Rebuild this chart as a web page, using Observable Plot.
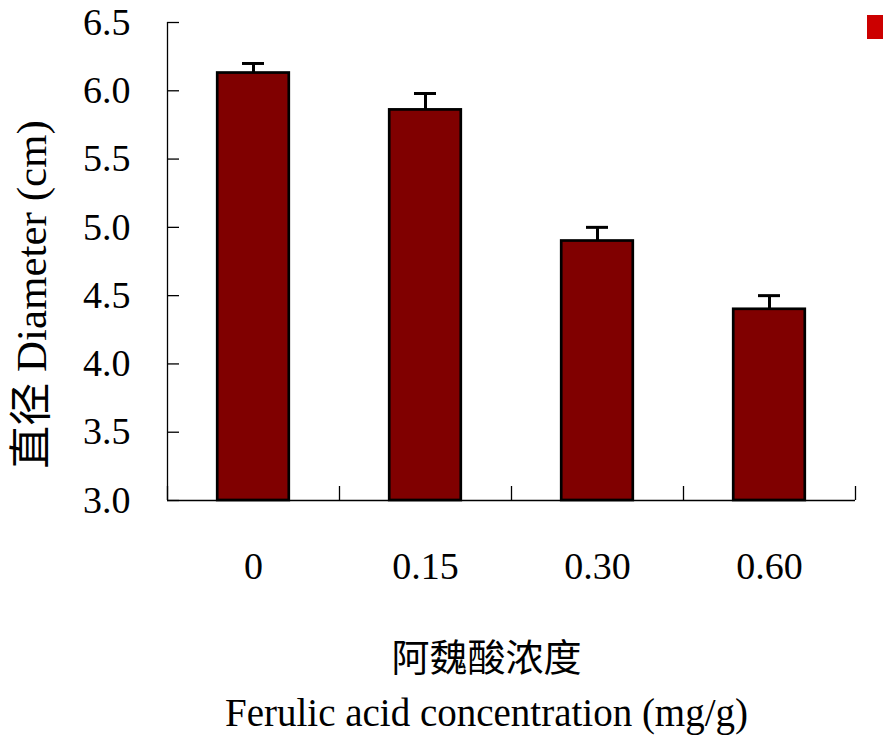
<!DOCTYPE html>
<html>
<head>
<meta charset="utf-8">
<script src="https://cdn.jsdelivr.net/npm/d3@7"></script>
<script src="https://cdn.jsdelivr.net/npm/@observablehq/plot@0.6"></script>
<style>
  html, body { margin: 0; padding: 0; background: #fff; }
  #chart { position: relative; width: 883px; height: 737px; }
  .legend-swatch { position: absolute; left: 867px; top: 15px; width: 16px; height: 24px; background: #cc0000; }
</style>
</head>
<body>
<div id="chart"><div class="legend-swatch"></div></div>
<script>
// Ferulic acid concentration (mg/g) vs. diameter (cm), mean ± error
const concentrations = ["0", "0.15", "0.30", "0.60"];
const diameters = [6.13, 5.86, 4.90, 4.40];
const errors = [0.07, 0.12, 0.10, 0.10];
const yTicks = [3.0, 3.5, 4.0, 4.5, 5.0, 5.5, 6.0, 6.5];
const yTitle = "直径 Diameter (cm)";
const xTitleZh = "阿魏酸浓度";
const xTitleEn = "Ferulic acid concentration (mg/g)";

const data = concentrations.map((c, i) => ({ i, c, d: diameters[i], e: errors[i] }));

const barHalf = 0.208;   // half bar width, in category units
const capHalf = 0.064;   // half error-cap width
const boundaries = [-0.5, 0.5, 1.5, 2.5, 3.5];

const font = "'Liberation Serif', 'Times New Roman', 'Noto Sans CJK SC', serif";

const chart = Plot.plot({
  width: 883,
  height: 737,
  marginTop: 22,
  marginBottom: 237,
  marginLeft: 167,
  marginRight: 28,
  style: { fontFamily: font, fontSize: "38px", color: "black", background: "transparent", overflow: "visible" },
  x: { type: "linear", domain: [-0.5, 3.5] },
  y: { domain: [3, 6.5] },
  marks: [
    Plot.rect(data, {
      x1: d => d.i - barHalf, x2: d => d.i + barHalf,
      y1: 3, y2: "d",
      fill: "#800000", stroke: "black", strokeWidth: 2.7
    }),
    Plot.ruleX(data, { x: "i", y1: "d", y2: d => d.d + d.e, stroke: "black", strokeWidth: 3 }),
    Plot.ruleY(data, { y: d => d.d + d.e, x1: d => d.i - capHalf, x2: d => d.i + capHalf, stroke: "black", strokeWidth: 3 }),
    // axis lines
    Plot.ruleX([-0.5], { stroke: "black", strokeWidth: 1.3 }),
    Plot.ruleY([3], { stroke: "black", strokeWidth: 1.3 }),
    // inward ticks
    Plot.axisY({ ticks: yTicks, tickSize: 12, dx: 12, tickFormat: () => "", label: null, stroke: "black", strokeWidth: 1.3 }),
    Plot.axisX({ ticks: boundaries, tickSize: 14, dy: -14, tickFormat: () => "", label: null, stroke: "black", strokeWidth: 1.3 }),
    // tick labels
    Plot.axisY({ ticks: yTicks, tickSize: 0, tickPadding: 37, tickFormat: d => d.toFixed(1), label: null, fill: "black" }),
    Plot.axisX({ ticks: [0, 1, 2, 3], tickSize: 0, tickPadding: 52, tickFormat: i => concentrations[i], label: null, fill: "black" }),
    // axis titles
    Plot.text([yTitle], { text: d => d, frameAnchor: "left", textAnchor: "middle", rotate: -90, dx: -135, dy: 33, fontSize: 43, fill: "black" }),
    Plot.text([xTitleZh], { text: d => d, frameAnchor: "bottom", dx: -25, dy: 170, fontSize: 38, fill: "black" }),
    Plot.text([xTitleEn], { text: d => d, frameAnchor: "bottom", dx: -25, dy: 225, fontSize: 39, fill: "black" })
  ]
});

document.getElementById("chart").prepend(chart);
</script>
</body>
</html>
